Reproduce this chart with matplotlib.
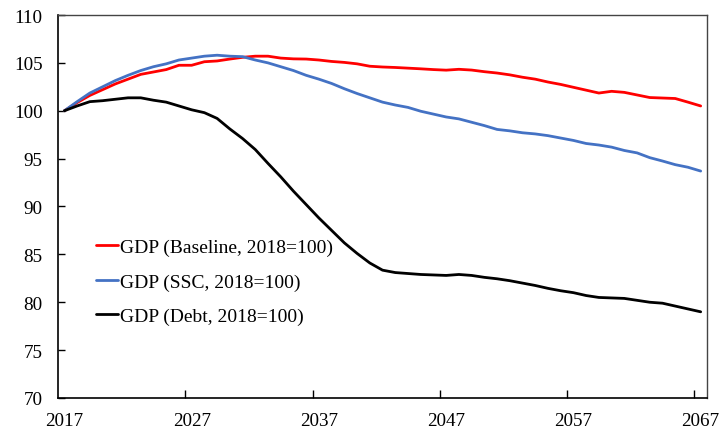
import numpy as np
import matplotlib
matplotlib.use('Agg')
import matplotlib.pyplot as plt

plt.rcParams['font.family'] = ['Liberation Serif', 'DejaVu Serif']

years = list(range(2017, 2068))

# GDP index paths
baseline = [100.0, 100.85, 101.6, 102.2, 102.8, 103.3, 103.8, 104.05, 104.3, 104.75,
            104.75, 105.12, 105.2, 105.4, 105.58, 105.7, 105.7, 105.5, 105.42, 105.4,
            105.3, 105.15, 105.05, 104.9, 104.65, 104.57, 104.52, 104.45, 104.38, 104.3,
            104.24, 104.33, 104.25, 104.08, 103.94, 103.75, 103.5, 103.3, 103.0, 102.75,
            102.45, 102.15, 101.85, 102.03, 101.92, 101.65, 101.38, 101.33, 101.28, 100.9,
            100.5]
ssc = [100.0, 100.95, 101.85, 102.5, 103.15, 103.7, 104.2, 104.6, 104.9, 105.3,
       105.5, 105.7, 105.8, 105.7, 105.65, 105.3, 105.0, 104.6, 104.2, 103.7,
       103.3, 102.85, 102.3, 101.8, 101.35, 100.9, 100.6, 100.35, 99.95, 99.65,
       99.35, 99.15, 98.8, 98.45, 98.05, 97.9, 97.7, 97.58, 97.4, 97.15,
       96.9, 96.58, 96.42, 96.2, 95.85, 95.6, 95.1, 94.75, 94.37, 94.1,
       93.7]
debt = [100.0, 100.5, 100.95, 101.05, 101.2, 101.35, 101.35, 101.1, 100.9, 100.5,
        100.1, 99.8, 99.2, 98.1, 97.1, 95.95, 94.5, 93.1, 91.6, 90.2,
        88.8, 87.5, 86.2, 85.1, 84.1, 83.35, 83.1, 83.0, 82.9, 82.85,
        82.8, 82.9, 82.8, 82.6, 82.45, 82.25, 82.0, 81.75, 81.45, 81.2,
        81.0, 80.7, 80.5, 80.45, 80.4, 80.2, 80.0, 79.9, 79.6, 79.3,
        79.0]

labels = ['GDP (Baseline, 2018=100)', 'GDP (SSC, 2018=100)', 'GDP (Debt, 2018=100)']
colors = ['#FF0000', '#4472C4', '#000000']

fig = plt.figure(figsize=(7.2, 4.35), dpi=100)
ax = fig.add_axes([0.0806, 0.0828, 0.9014, 0.8804])

for series, lab, col in zip([baseline, ssc, debt], labels, colors):
    ax.plot(years, series, color=col, lw=2.0, label=lab, solid_capstyle='round')

ax.set_xlim(2016.5, 2067.5)
ax.set_ylim(70, 110)

# labels centred on categories, tick marks on category boundaries
label_years = list(range(2017, 2068, 10))
ax.set_xticks(label_years, [str(y) for y in label_years])
ax.tick_params(axis='x', which='major', length=0, pad=10, labelsize=13.8)
ax.set_xticks([y - 0.5 for y in label_years[1:]], minor=True)
ax.tick_params(axis='x', which='minor', direction='in', length=6, width=1)

ax.set_yticks(np.arange(70, 111, 5))
ax.tick_params(axis='y', direction='in', length=5, width=1, pad=11, labelsize=13.8)

for side in ['left', 'bottom']:
    ax.spines[side].set_linewidth(1.2)
    ax.spines[side].set_color('black')
for side in ['top', 'right']:
    ax.spines[side].set_linewidth(1.0)
    ax.spines[side].set_color('#444444')

ax.legend(loc='upper left', bbox_to_anchor=(0.058, 0.416), frameon=False,
          fontsize=14, handlelength=1.13, handletextpad=0.1, labelspacing=0.85,
          borderpad=0, borderaxespad=0)

fig.savefig('out.png', dpi=100)
